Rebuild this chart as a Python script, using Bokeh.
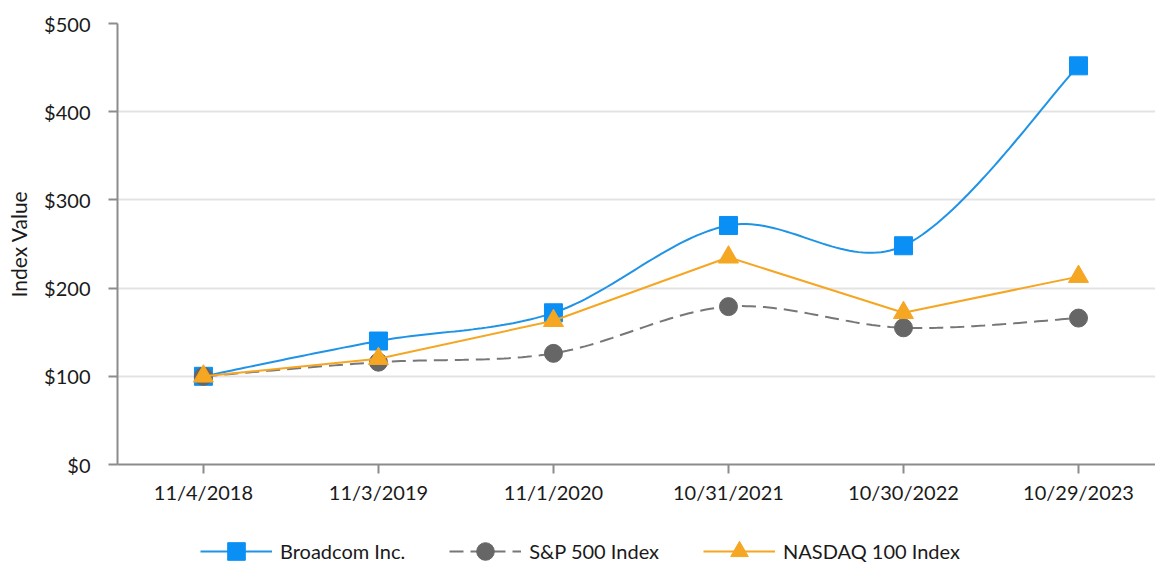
import numpy as np
from bokeh.plotting import figure
from bokeh.layouts import column
from bokeh.models import FixedTicker, Legend, LegendItem, Range1d, NumeralTickFormatter
from bokeh.embed import file_html
from bokeh.resources import INLINE

dates = ["11/4/2018", "11/3/2019", "11/1/2020", "10/31/2021", "10/30/2022", "10/29/2023"]
broadcom = [100, 140, 172, 271, 248, 452]
sp500 = [100, 116, 126, 179, 155, 166]
nasdaq = [100, 120, 163, 235, 172, 213]
yticks = [0, 100, 200, 300, 400, 500]

FONT = "Lato"
BLUE = "#0a8ff5"
BLUE_LINE = "#1f93e6"
GRAY = "#666666"
ORANGE = "#f5a623"


def smooth(xs, ys, n=40):
    xs = np.asarray(xs, float)
    ys = np.asarray(ys, float)
    P = np.column_stack([xs, ys])
    Pext = np.vstack([P[0], P, P[-1]])
    out = []
    t = np.linspace(0, 1, n)[:, None]
    for i in range(len(P) - 1):
        p0, p1, p2, p3 = Pext[i], Pext[i + 1], Pext[i + 2], Pext[i + 3]
        c1 = p1 + (p2 - p0) / 6.0
        c2 = p2 - (p3 - p1) / 6.0
        seg = ((1 - t) ** 3) * p1 + 3 * ((1 - t) ** 2) * t * c1 + 3 * (1 - t) * t ** 2 * c2 + t ** 3 * p2
        out.append(seg if i == 0 else seg[1:])
    s = np.vstack(out)
    return s[:, 0], s[:, 1]


x = list(range(len(dates)))

p = figure(width=1155, height=510, output_backend="svg", toolbar_location=None,
           x_range=Range1d(-0.491, 5.44), y_range=Range1d(0, 500),
           min_border_left=117, min_border_right=0, min_border_top=23,
           min_border_bottom=46)
p.outline_line_color = None

p.xaxis.ticker = FixedTicker(ticks=x)
p.xaxis.major_label_overrides = {i: d for i, d in enumerate(dates)}
p.yaxis.ticker = FixedTicker(ticks=yticks)
p.yaxis.formatter = NumeralTickFormatter(format="$0")
for ax in (p.xaxis, p.yaxis):
    ax.axis_line_color = "#8c8c8c"
    ax.axis_line_width = 2
    ax.major_tick_line_color = "#8c8c8c"
    ax.major_tick_line_width = 2
    ax.major_tick_in = 0
    ax.major_tick_out = 9
    ax.minor_tick_line_color = None
    ax.major_label_text_font = FONT
    ax.major_label_text_font_size = "20px"
    ax.major_label_text_color = "#1a1a1a"
p.yaxis.major_label_standoff = 18
p.xaxis.major_label_standoff = 6
p.yaxis.axis_label = "Index Value"
p.yaxis.axis_label_text_font = FONT
p.yaxis.axis_label_text_font_size = "21px"
p.yaxis.axis_label_text_font_style = "normal"
p.yaxis.axis_label_text_color = "#1a1a1a"
p.yaxis.axis_label_standoff = 10

p.xgrid.grid_line_color = None
p.ygrid.ticker = FixedTicker(ticks=yticks[1:])
p.ygrid.grid_line_color = "#e3e3e3"
p.ygrid.grid_line_width = 2


def draw(fig):
    bx, by = smooth(x, broadcom)
    l1 = fig.line(bx, by, line_color=BLUE_LINE, line_width=2)
    m1 = fig.scatter(x, broadcom, marker="square", size=18, fill_color=BLUE, line_color=BLUE)
    sx, sy = smooth(x, sp500)
    l2 = fig.line(sx, sy, line_color="#777777", line_width=2, line_dash="14 7")
    m2 = fig.scatter(x, sp500, marker="circle", size=18, fill_color=GRAY, line_color=GRAY)
    l3 = fig.line(x, nasdaq, line_color=ORANGE, line_width=2)
    m3 = fig.scatter(x, nasdaq, marker="triangle", size=20, fill_color=ORANGE, line_color=ORANGE)
    return (l1, m1), (l2, m2), (l3, m3)


draw(p)

# legend strip: same series drawn outside its visible range, only the legend shows
lg = figure(width=1155, height=52, output_backend="svg", toolbar_location=None,
            x_range=Range1d(100, 101), y_range=Range1d(10000, 10001),
            min_border=0)
lg.outline_line_color = None
lg.axis.visible = False
lg.grid.visible = False
r1, r2, r3 = draw(lg)
legend = Legend(items=[
    LegendItem(label="Broadcom Inc.", renderers=list(r1)),
    LegendItem(label="S&P 500 Index", renderers=list(r2)),
    LegendItem(label="NASDAQ 100 Index", renderers=list(r3)),
], orientation="horizontal", location=(83, -11),
    label_text_font=FONT, label_text_font_size="20px", label_text_color="#1a1a1a",
    glyph_width=72, glyph_height=44, spacing=44, label_standoff=8,
    border_line_color=None, background_fill_alpha=0, margin=0, padding=0)
lg.add_layout(legend)

open("out.html", "w").write(file_html(column(p, lg, spacing=0), INLINE))
